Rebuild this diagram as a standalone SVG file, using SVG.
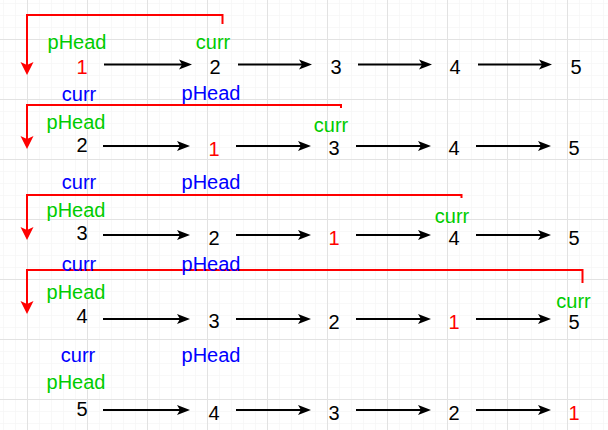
<svg xmlns="http://www.w3.org/2000/svg" width="608" height="430" viewBox="0 0 608 430">
<style>
text{font-family:"Liberation Sans",Arial,sans-serif;font-size:20px;text-anchor:middle}
.g{fill:#00cc00}.b{fill:#0000ff}.r{fill:#ff0000}.k{fill:#000000}
.ar{stroke:#000;stroke-width:2;fill:none;marker-end:url(#ah)}
.br{stroke:#ff0000;stroke-width:2;fill:none;marker-end:url(#rh)}
</style>
<defs>
<pattern id="minor" x="3" y="3" width="12" height="12" patternUnits="userSpaceOnUse">
<path d="M0,0 H12 M0,0 V12" stroke="#f2f2f2" stroke-width="1" fill="none"/>
</pattern>
<pattern id="major" x="27" y="39" width="60" height="60" patternUnits="userSpaceOnUse">
<path d="M0,0.5 H60 M0.5,0 V60" stroke="#e2e2e2" stroke-width="1" fill="none"/>
</pattern>
<marker id="ah" markerUnits="userSpaceOnUse" markerWidth="14" markerHeight="12" refX="3" refY="5" orient="auto" viewBox="0 0 14 10">
<path d="M0,0 L13,5 L0,10 L3,5 Z" fill="#000"/>
</marker>
<marker id="rh" markerUnits="userSpaceOnUse" markerWidth="14" markerHeight="14" refX="3" refY="6.5" orient="auto" viewBox="0 0 14 13">
<path d="M0,0 L13,6.5 L0,13 L3,6.5 Z" fill="#ff0000"/>
</marker>
</defs>
<rect width="608" height="430" fill="#ffffff"/>
<rect width="608" height="430" fill="url(#minor)"/>
<rect width="608" height="430" fill="url(#major)"/>
<g id="connectors">
<path class="br" d="M222.5,24 V15 H27 V65"/>
<path class="br" d="M341,108 V105 H27 V139"/>
<path class="br" d="M461.5,198 V195 H27 V230"/>
<path class="br" d="M582.5,283 V270 H27 V304"/>
<line class="ar" x1="104" y1="64.5" x2="182" y2="64.5"/>
<line class="ar" x1="238" y1="64.5" x2="302" y2="64.5"/>
<line class="ar" x1="358" y1="64.5" x2="422" y2="64.5"/>
<line class="ar" x1="478" y1="64.5" x2="542" y2="64.5"/>
<line class="ar" x1="103" y1="146" x2="180" y2="146"/>
<line class="ar" x1="236" y1="146" x2="301" y2="146"/>
<line class="ar" x1="356" y1="146" x2="421" y2="146"/>
<line class="ar" x1="476" y1="146" x2="541" y2="146"/>
<line class="ar" x1="103" y1="235" x2="180" y2="235"/>
<line class="ar" x1="236" y1="235" x2="301" y2="235"/>
<line class="ar" x1="356" y1="235" x2="421" y2="235"/>
<line class="ar" x1="476" y1="235" x2="541" y2="235"/>
<line class="ar" x1="103" y1="319" x2="180" y2="319"/>
<line class="ar" x1="236" y1="319" x2="301" y2="319"/>
<line class="ar" x1="356" y1="319" x2="421" y2="319"/>
<line class="ar" x1="476" y1="319" x2="541" y2="319"/>
<line class="ar" x1="103" y1="410" x2="180" y2="410"/>
<line class="ar" x1="236" y1="410" x2="301" y2="410"/>
<line class="ar" x1="356" y1="410" x2="421" y2="410"/>
<line class="ar" x1="476" y1="410" x2="541" y2="410"/>
</g>
<g id="row1">
<text class="g" x="77" y="49">pHead</text>
<text class="g" x="213" y="49">curr</text>
<text class="r" x="82" y="74">1</text>
<text class="k" x="215" y="74">2</text>
<text class="k" x="336" y="74">3</text>
<text class="k" x="455" y="74">4</text>
<text class="k" x="576" y="74">5</text>
</g>
<g id="row2">
<text class="b" x="79" y="101">curr</text>
<text class="b" x="211" y="100">pHead</text>
<text class="g" x="76" y="129">pHead</text>
<text class="g" x="331" y="132">curr</text>
<text class="k" x="82" y="152">2</text>
<text class="r" x="214" y="156">1</text>
<text class="k" x="334" y="155">3</text>
<text class="k" x="454" y="155">4</text>
<text class="k" x="574" y="155">5</text>
</g>
<g id="row3">
<text class="b" x="79" y="189">curr</text>
<text class="b" x="211" y="189">pHead</text>
<text class="g" x="76" y="217">pHead</text>
<text class="g" x="452" y="223">curr</text>
<text class="k" x="82" y="240">3</text>
<text class="k" x="214" y="245">2</text>
<text class="r" x="334" y="245">1</text>
<text class="k" x="454" y="245">4</text>
<text class="k" x="574" y="245">5</text>
</g>
<g id="row4">
<text class="b" x="79" y="271">curr</text>
<text class="b" x="211" y="271">pHead</text>
<text class="g" x="76" y="299">pHead</text>
<text class="g" x="573.5" y="308">curr</text>
<text class="k" x="82" y="323">4</text>
<text class="k" x="214" y="328">3</text>
<text class="k" x="334" y="329">2</text>
<text class="r" x="454" y="329">1</text>
<text class="k" x="574" y="329">5</text>
</g>
<g id="row5">
<text class="b" x="78" y="362">curr</text>
<text class="b" x="211" y="362">pHead</text>
<text class="g" x="76" y="389">pHead</text>
<text class="k" x="82" y="416">5</text>
<text class="k" x="214" y="420">4</text>
<text class="k" x="334" y="420">3</text>
<text class="k" x="454" y="420">2</text>
<text class="r" x="574" y="420">1</text>
</g>
</svg>
